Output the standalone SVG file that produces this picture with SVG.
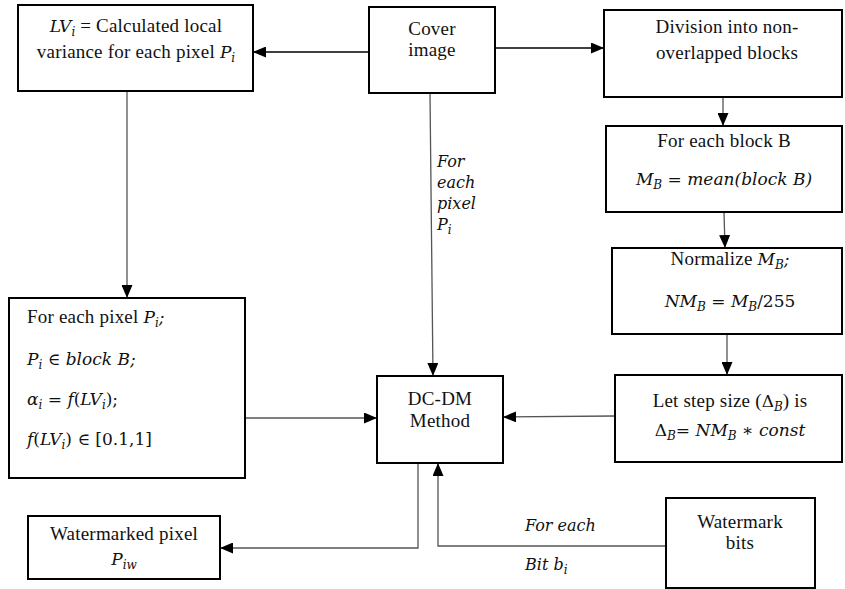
<svg xmlns="http://www.w3.org/2000/svg" width="845" height="589" viewBox="0 0 845 589">
<style>
.box{fill:#fff;stroke:#000;stroke-width:2}
.t{font-family:'Liberation Serif',serif;font-size:19px;letter-spacing:0.2px;fill:#111}
.c{text-anchor:middle}
.m{font-family:'DejaVu Serif',serif;font-style:italic;font-size:17px;letter-spacing:0}
.u{font-family:'DejaVu Serif',serif;font-style:normal;font-size:17px;letter-spacing:0}
.s{font-family:'DejaVu Serif',serif;font-style:italic;font-size:12px;letter-spacing:0}
.lbl{font-family:'DejaVu Serif',serif;font-style:italic;font-size:16px;fill:#111}
.ln{fill:none;stroke:#555;stroke-width:1.3}
.lk{fill:none;stroke:#000;stroke-width:1.5}
</style>
<defs>
<marker id="ah" markerUnits="userSpaceOnUse" markerWidth="13" markerHeight="11" refX="13" refY="5.5" orient="auto">
<path d="M0,0 L13,5.5 L0,11 z" fill="#000"/>
</marker>
</defs>
<rect width="845" height="589" fill="#fff"/>
<g id="connectors">
<line class="lk" x1="369" y1="52" x2="253" y2="52" marker-end="url(#ah)"/>
<line class="lk" x1="495" y1="48" x2="604" y2="48" marker-end="url(#ah)"/>
<line class="ln" x1="723" y1="97" x2="723" y2="126" marker-end="url(#ah)"/>
<line class="ln" x1="724" y1="212" x2="725" y2="248" marker-end="url(#ah)"/>
<line class="ln" x1="727" y1="334" x2="727" y2="375" marker-end="url(#ah)"/>
<line class="ln" x1="615" y1="416" x2="503" y2="417" marker-end="url(#ah)"/>
<line class="ln" x1="127" y1="91" x2="127" y2="298" marker-end="url(#ah)"/>
<line class="ln" x1="245" y1="418" x2="377" y2="418" marker-end="url(#ah)"/>
<line class="ln" x1="430" y1="93" x2="433" y2="376" marker-end="url(#ah)"/>
<polyline class="ln" points="418,463 418,548 220,548" marker-end="url(#ah)"/>
<polyline class="ln" points="666,546 438,546 438,463" marker-end="url(#ah)"/>
<text class="lbl" x="437" y="167">For</text>
<text class="lbl" x="437" y="188">each</text>
<text class="lbl" x="437" y="209">pixel</text>
<text class="lbl" x="437" y="230">P<tspan class="s" dy="4">i</tspan></text>
<text class="lbl" x="525" y="531">For each</text>
<text class="lbl" x="525" y="570">Bit b<tspan class="s" dy="4">i</tspan></text>
</g>
<g id="lv">
<rect class="box" x="18" y="5" width="235" height="86"/>
<text class="t c" x="136" y="32"><tspan class="m">LV</tspan><tspan class="s" dy="4">i</tspan><tspan dy="-4"> = Calculated local</tspan></text>
<text class="t c" x="136" y="58">variance for each pixel <tspan class="m">P</tspan><tspan class="s" dy="4">i</tspan></text>
</g>
<g id="cover">
<rect class="box" x="369" y="7" width="126" height="86"/>
<text class="t c" x="432" y="35">Cover</text>
<text class="t c" x="432" y="56">image</text>
</g>
<g id="division">
<rect class="box" x="604" y="10" width="238" height="87"/>
<text class="t c" x="727" y="33">Division into non-</text>
<text class="t c" x="727" y="59">overlapped blocks</text>
</g>
<g id="block">
<rect class="box" x="606" y="126" width="236" height="86"/>
<text class="t c" x="724" y="147">For each block B</text>
<text class="t c" x="724" y="185"><tspan class="m">M</tspan><tspan class="s" dy="4">B</tspan><tspan class="u" dy="-4"> = </tspan><tspan class="m">mean(block B)</tspan></text>
</g>
<g id="normalize">
<rect class="box" x="612" y="248" width="230" height="86"/>
<text class="t c" x="730" y="265">Normalize <tspan class="m">M</tspan><tspan class="s" dy="4">B</tspan><tspan class="m" dy="-4">;</tspan></text>
<text class="t c" x="730" y="307"><tspan class="m">NM</tspan><tspan class="s" dy="4">B</tspan><tspan class="u" dy="-4"> = </tspan><tspan class="m">M</tspan><tspan class="s" dy="4">B</tspan><tspan class="u" dy="-4">/255</tspan></text>
</g>
<g id="stepsize">
<rect class="box" x="615" y="375" width="227" height="87"/>
<text class="t c" x="730" y="407">Let step size (<tspan class="u">Δ</tspan><tspan class="s" dy="4">B</tspan><tspan dy="-4">) is</tspan></text>
<text class="t c" x="730" y="436"><tspan class="u">Δ</tspan><tspan class="s" dy="4">B</tspan><tspan class="u" dy="-4">= </tspan><tspan class="m">NM</tspan><tspan class="s" dy="4">B</tspan><tspan class="u" dy="-4"> ∗ </tspan><tspan class="m">const</tspan></text>
</g>
<g id="dcdm">
<rect class="box" x="377" y="376" width="126" height="87"/>
<text class="t c" x="440" y="405">DC-DM</text>
<text class="t c" x="440" y="427">Method</text>
</g>
<g id="foreachpixel">
<rect class="box" x="9" y="298" width="236" height="180"/>
<text class="t" x="27" y="323">For each pixel <tspan class="m">P</tspan><tspan class="s" dy="4">i</tspan><tspan class="m" dy="-4">;</tspan></text>
<text class="t" x="27" y="365"><tspan class="m">P</tspan><tspan class="s" dy="4">i</tspan><tspan class="u" dy="-4"> ∈ </tspan><tspan class="m">block B;</tspan></text>
<text class="t" x="27" y="405"><tspan class="m">α</tspan><tspan class="s" dy="4">i</tspan><tspan class="u" dy="-4"> = </tspan><tspan class="m">f</tspan><tspan class="u">(</tspan><tspan class="m">LV</tspan><tspan class="s" dy="4">i</tspan><tspan class="u" dy="-4">);</tspan></text>
<text class="t" x="27" y="445"><tspan class="m">f</tspan><tspan class="u">(</tspan><tspan class="m">LV</tspan><tspan class="s" dy="4">i</tspan><tspan class="u" dy="-4">) ∈ [0.1,1]</tspan></text>
</g>
<g id="watermarked">
<rect class="box" x="28" y="516" width="192" height="63"/>
<text class="t c" x="124" y="540">Watermarked pixel</text>
<text class="t c" x="124" y="565"><tspan class="m">P</tspan><tspan class="s" dy="4">iw</tspan></text>
</g>
<g id="wmbits">
<rect class="box" x="666" y="498" width="149" height="90"/>
<text class="t c" x="740" y="528">Watermark</text>
<text class="t c" x="740" y="549">bits</text>
</g>
</svg>
